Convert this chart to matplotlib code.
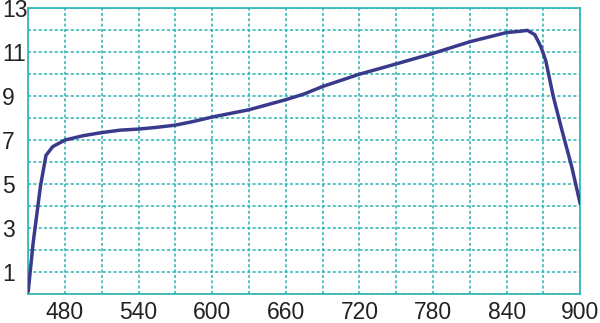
import matplotlib
matplotlib.use("Agg")
import matplotlib.pyplot as plt

# curve
wavelength = [450, 454, 460, 464.5, 470, 480, 495, 510, 525, 540, 555, 570, 585,
              600, 630, 660, 675, 690, 720, 750, 780, 810, 840, 850, 857, 863,
              868, 872, 878, 885, 893, 900]
value = [0.1, 2.3, 4.9, 6.3, 6.7, 7.0, 7.2, 7.34, 7.45, 7.5, 7.58, 7.68, 7.85,
         8.05, 8.38, 8.84, 9.1, 9.44, 10.0, 10.47, 10.95, 11.48, 11.9, 11.95,
         12.0, 11.8, 11.25, 10.6, 9.0, 7.47, 5.8, 4.1]

x_labels = [480, 540, 600, 660, 720, 780, 840, 900]
y_labels = [1, 3, 5, 7, 9, 11, 13]

grid_color = "#2bb3b3"
line_color = "#3a3a8c"

fig = plt.figure(figsize=(6, 3.23), dpi=100)
ax = fig.add_axes([0.047, 0.091, 0.92, 0.883])

ax.plot(wavelength, value, color=line_color, linewidth=2.5, solid_capstyle="round",
        solid_joinstyle="round", zorder=3)

ax.set_xlim(450, 900)
ax.set_ylim(0, 13)
ax.set_xticks(x_labels)
ax.set_xticks(range(450, 901, 30), minor=True)
ax.set_yticks(y_labels)
ax.set_yticks(range(0, 14), minor=True)

ax.grid(True, which="both", color=grid_color, linestyle=(0, (2, 1.5)), linewidth=1.1)
for s in ax.spines.values():
    s.set_color(grid_color)
    s.set_linewidth(1.2)

ax.tick_params(which="both", length=0)
ax.tick_params(axis="x", pad=5)
ax.tick_params(axis="y", pad=19)
for lab in ax.get_xticklabels() + ax.get_yticklabels():
    lab.set_fontfamily("Liberation Sans")
    lab.set_fontsize(16.5)
    lab.set_color("#222222")
for lab in ax.get_yticklabels():
    lab.set_horizontalalignment("left")

fig.savefig("out.png", dpi=100)
plt.close(fig)
